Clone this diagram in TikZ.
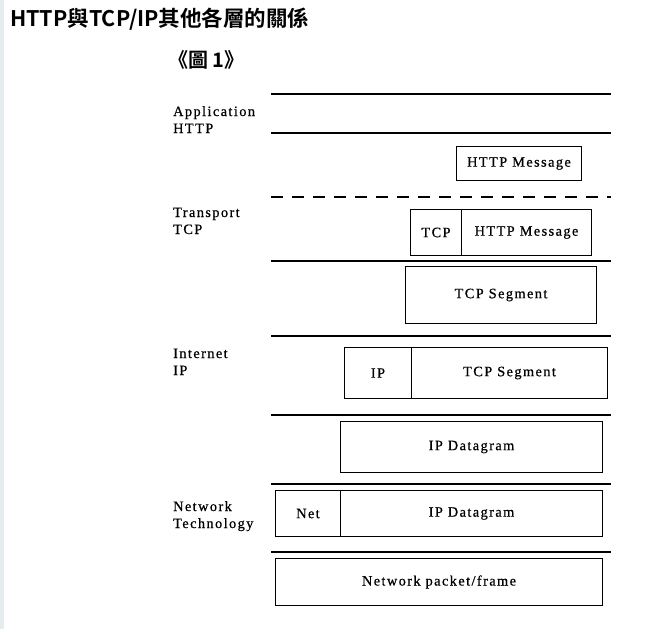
\documentclass[tikz,border=0pt]{standalone}
\usepackage{fontspec}
\setmainfont{Liberation Serif}
\newfontfamily\cjkb[BoldFont={Noto Sans CJK TC Bold}]{Noto Sans CJK TC}
\newfontfamily\diagfont[LetterSpace=10,FakeBold=0.6]{Liberation Serif}
\definecolor{stripc}{HTML}{E4ECEE}
\tikzset{
  rulethick/.style={line width=1.8pt},
  rulethin/.style={line width=1.8pt, dash pattern=on 12pt off 9pt},
  lbl/.style={anchor=base west, inner sep=0pt, font=\diagfont\fontsize{14.3}{16}\selectfont},
  cell/.style={draw, line width=1pt, anchor=north west, inner sep=0pt, font=\diagfont\fontsize{14.3}{16}\selectfont},
}
\begin{document}
\begin{tikzpicture}[x=1pt,y=-1pt]
\useasboundingbox (0,0) rectangle (663,629);
\fill[white] (0,0) rectangle (663,629);
\fill[stripc] (0,0) rectangle (4,629);
% titles
\node[anchor=west, inner sep=0pt, font=\cjkb\bfseries\fontsize{21.5}{24}\selectfont] (title) at (10,19) {HTTP與TCP/IP其他各層的關係};
\node[anchor=west, inner sep=0pt, font=\cjkb\bfseries\fontsize{20}{22}\selectfont] (fig) at (168,60) {《圖 1》};
% layer labels
\node[lbl] (app) at (173,116) {Application};
\node[lbl] (apph) at (173,133) {HTTP};
\node[lbl] (tra) at (173,217) {Transport};
\node[lbl] (trat) at (173,234) {TCP};
\node[lbl] (inet) at (173,358) {Internet};
\node[lbl] (ineti) at (173,375) {IP};
\node[lbl] (net) at (173,511) {Network};
\node[lbl] (nett) at (173,528) {Technology};
% rules
\coordinate (r1a) at (271,94);  \coordinate (r1b) at (611,94);
\coordinate (r2a) at (271,133); \coordinate (r2b) at (611,133);
\coordinate (r3a) at (271,197); \coordinate (r3b) at (611,197);
\coordinate (r4a) at (271,261); \coordinate (r4b) at (611,261);
\coordinate (r5a) at (271,336); \coordinate (r5b) at (611,336);
\coordinate (r6a) at (271,415); \coordinate (r6b) at (611,415);
\coordinate (r7a) at (271,484); \coordinate (r7b) at (611,484);
\coordinate (r8a) at (271,552); \coordinate (r8b) at (611,552);
\draw[rulethick] (r1a) -- (r1b);
\draw[rulethick] (r2a) -- (r2b);
\draw[rulethin] (r3a) -- (r3b);
\draw[rulethick] (r4a) -- (r4b);
\draw[rulethick] (r5a) -- (r5b);
\draw[rulethick] (r6a) -- (r6b);
\draw[rulethick] (r7a) -- (r7b);
\draw[rulethick] (r8a) -- (r8b);
% boxes
\node[cell, minimum width=125, minimum height=34] (hm1) at (456,146) {HTTP Message};
\node[cell, minimum width=51, minimum height=46] (tcph) at (410,209) {TCP};
\node[cell, minimum width=130, minimum height=46] (hm2) at (461,209) {HTTP Message};
\node[cell, minimum width=191, minimum height=57] (tseg) at (405,266) {TCP Segment};
\node[cell, minimum width=67, minimum height=51] (iph) at (344,347) {IP};
\node[cell, minimum width=196, minimum height=51] (tseg2) at (411,347) {TCP Segment};
\node[cell, minimum width=262, minimum height=51] (ipd) at (340,421) {IP Datagram};
\node[cell, minimum width=65, minimum height=46] (neth) at (275,490) {Net};
\node[cell, minimum width=262, minimum height=46] (ipd2) at (340,490) {IP Datagram};
\node[cell, minimum width=327, minimum height=47] (frame) at (275,558) {Network packet/frame};
\end{tikzpicture}
\end{document}
